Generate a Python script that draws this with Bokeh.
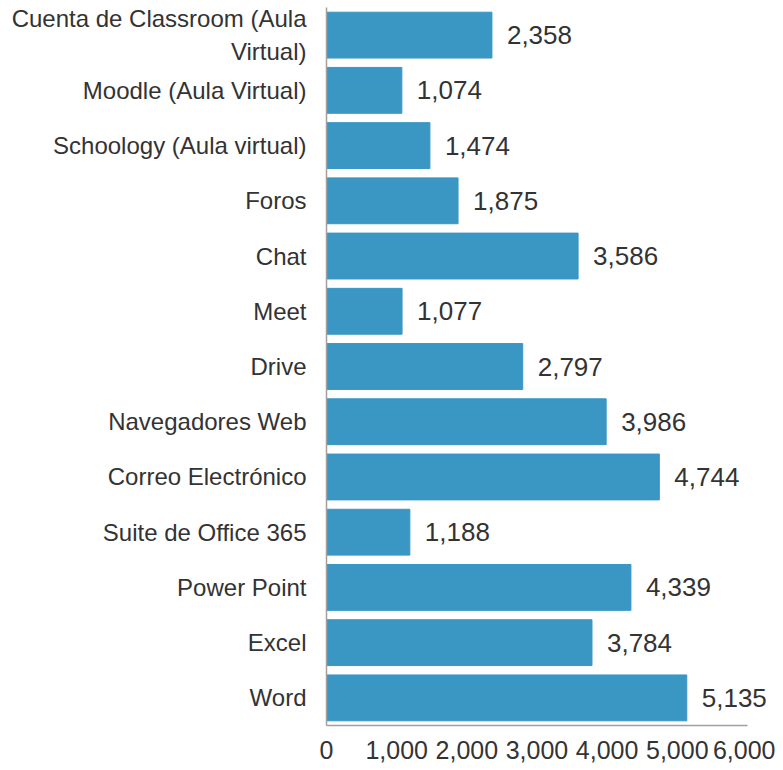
from bokeh.plotting import figure
from bokeh.models import FactorRange, Range1d, ColumnDataSource, LabelSet, NumeralTickFormatter, FixedTicker
from bokeh.core.properties import value
from bokeh.embed import file_html
from bokeh.resources import INLINE

categories = ["Cuenta de Classroom (Aula\nVirtual)", "Moodle (Aula Virtual)", "Schoology (Aula virtual)",
              "Foros", "Chat", "Meet", "Drive", "Navegadores Web", "Correo Electrónico",
              "Suite de Office 365", "Power Point", "Excel", "Word"]
values = [2358, 1074, 1474, 1875, 3586, 1077, 2797, 3986, 4744, 1188, 4339, 3784, 5135]
x_ticks = [0, 1000, 2000, 3000, 4000, 5000, 6000]

FONT = "Liberation Sans"
TXT = "#333333"

src = ColumnDataSource(dict(cat=categories, val=values,
                            lab=[f"{v:,}" for v in values]))

p = figure(width=775, height=768, output_backend="svg", toolbar_location=None,
           y_range=FactorRange(factors=list(reversed(categories)), range_padding=0),
           x_range=Range1d(0, 6400),
           min_border_left=326, min_border_right=0, min_border_top=7, min_border_bottom=43)

p.hbar(y="cat", right="val", left=0, height=0.83, source=src,
       fill_color="#3A96C3", line_color="#3A96C3")

labels = LabelSet(x="val", y="cat", text="lab", source=src, x_offset=15,
                  text_baseline="middle", text_align="left",
                  text_font=value(FONT), text_font_size=value("26px"), text_color=TXT)
p.add_layout(labels)

p.outline_line_color = None
p.xgrid.grid_line_color = None
p.ygrid.grid_line_color = None

p.xaxis.ticker = FixedTicker(ticks=x_ticks)
p.xaxis.formatter = NumeralTickFormatter(format="0,0")
p.xaxis.bounds = (0, 6000)
p.xaxis.major_tick_line_color = None
p.xaxis.minor_tick_line_color = None
p.xaxis.major_tick_out = 0
p.xaxis.major_label_standoff = 15
p.xaxis.axis_line_color = "#A0A0A0"
p.xaxis.axis_line_width = 1.5
p.xaxis.major_label_text_font_size = "25px"

p.yaxis.major_tick_line_color = None
p.yaxis.minor_tick_line_color = None
p.yaxis.major_tick_out = 0
p.yaxis.major_label_standoff = 20
p.yaxis.axis_line_color = "#A0A0A0"
p.yaxis.axis_line_width = 1.5
p.yaxis.major_label_text_font_size = "24px"

for ax in (p.xaxis, p.yaxis):
    ax.major_label_text_font = FONT
    ax.major_label_text_color = TXT

open("out.html", "w").write(file_html(p, INLINE))
